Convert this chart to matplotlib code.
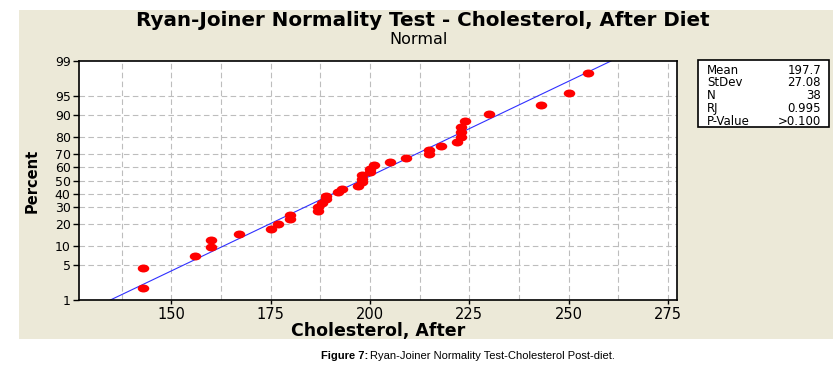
#%%
import numpy as np
import matplotlib
matplotlib.use("Agg")
import matplotlib.pyplot as plt
from matplotlib.patches import Rectangle
from matplotlib.path import Path
from matplotlib.transforms import Affine2D
from statistics import NormalDist

#%%
## data (cholesterol after diet, sorted)
cholesterol = [143, 143, 156, 160, 160, 167, 175, 177, 180, 180,
               187, 187, 188, 189, 189, 192, 193, 197, 198, 198,
               198, 200, 200, 201, 205, 209, 215, 215, 218, 222,
               223, 223, 223, 224, 230, 243, 250, 255]
mean = 197.7
stdev = 27.08
stat_labels = ["Mean", "StDev", "N", "RJ", "P-Value"]
stat_values = ["197.7", "27.08", "38", "0.995", ">0.100"]
pct_ticks = [1, 5, 10, 20, 30, 40, 50, 60, 70, 80, 90, 95, 99]
x_ticks = [150, 175, 200, 225, 250, 275]

BEIGE = "#ECE9D8"
nd = NormalDist()

#%%
## plotting positions, Minitab median ranks
x = np.sort(np.array(cholesterol, dtype=float))
n = len(x)
ranks = np.arange(1, n + 1)
z = np.array([nd.inv_cdf((i - 0.3) / (n + 0.4)) for i in ranks])

fig = plt.figure(figsize=(8.37, 3.70), dpi=100)
fig.patch.set_facecolor("white")
fig.patches.append(Rectangle((19/837, 31/370), 814/837, 329/370, transform=fig.transFigure,
                             facecolor=BEIGE, edgecolor="none", zorder=-10))

ax = fig.add_axes([79/837, 70/370, 598/837, 239/370])
ax.set_facecolor("white")

z_lo, z_hi = nd.inv_cdf(0.01), nd.inv_cdf(0.99)
ax.set_ylim(z_lo, z_hi)
ax.set_xlim(126.8, 277.3)

## grid
for g in np.arange(137.5, 277, 12.5):
    ax.axvline(g, color="#BDBDBD", lw=0.8, ls=(0, (5, 3)), zorder=1)
for p in pct_ticks[1:-1]:
    ax.axhline(nd.inv_cdf(p / 100), color="#BDBDBD", lw=0.8, ls=(0, (5, 3)), zorder=1)

## fitted line
xl = np.array([mean + z_lo * stdev, mean + z_hi * stdev])
ax.plot(xl, (xl - mean) / stdev, color="#3030FF", lw=0.8, zorder=2)

## points (stretched circles, like the source image)
ell = Path.unit_circle().transformed(Affine2D().scale(1.45, 1.0))
ax.plot(x, z, ls="none", marker=ell, markersize=8.3, color="#FF0000", mec="none", zorder=3)

ax.set_yticks([nd.inv_cdf(p / 100) for p in pct_ticks])
ax.set_yticklabels([str(p) for p in pct_ticks], fontsize=9)
ax.set_xticks(x_ticks)
ax.set_xticklabels([str(t) for t in x_ticks], fontsize=10.5)
ax.tick_params(axis="y", direction="out", length=4, width=1, pad=2, colors="black")
ax.tick_params(axis="x", direction="out", length=3, width=1, pad=2)
for s in ax.spines.values():
    s.set_linewidth(1.2)
    s.set_color("black")

ax.set_ylabel("Percent", fontsize=10.5, fontweight="bold", labelpad=11)
ax.set_xlabel("Cholesterol, After", fontsize=12.5, fontweight="bold", labelpad=0)

fig.text(423/837, 1 - 20/370, "Ryan-Joiner Normality Test - Cholesterol, After Diet",
         ha="center", va="center", fontsize=14.3, fontweight="bold")
fig.text(419/837, 1 - 39/370, "Normal", ha="center", va="center", fontsize=11.5)

## stats box
fig.patches.append(Rectangle((698/837, 1 - 127/370), 131/837, 67/370, transform=fig.transFigure,
                             facecolor="white", edgecolor="black", lw=1.2, zorder=5))
for k, (lab, val) in enumerate(zip(stat_labels, stat_values)):
    yy = 1 - (70 + k * 12.8) / 370
    fig.text(707/837, yy, lab, ha="left", va="center", fontsize=8.5, zorder=6)
    fig.text(821/837, yy, val, ha="right", va="center", fontsize=8.5, zorder=6)

## caption
fig.text(368/837, 1 - 356/370, "Figure 7:", ha="right", va="center", fontsize=8,
         fontweight="bold", family=["Liberation Sans Narrow", "Liberation Sans"])
fig.text(370/837, 1 - 356/370, "Ryan-Joiner Normality Test-Cholesterol Post-diet.", ha="left",
         va="center", fontsize=8, family=["Liberation Sans Narrow", "Liberation Sans"])

fig.savefig("out.png", dpi=100)
